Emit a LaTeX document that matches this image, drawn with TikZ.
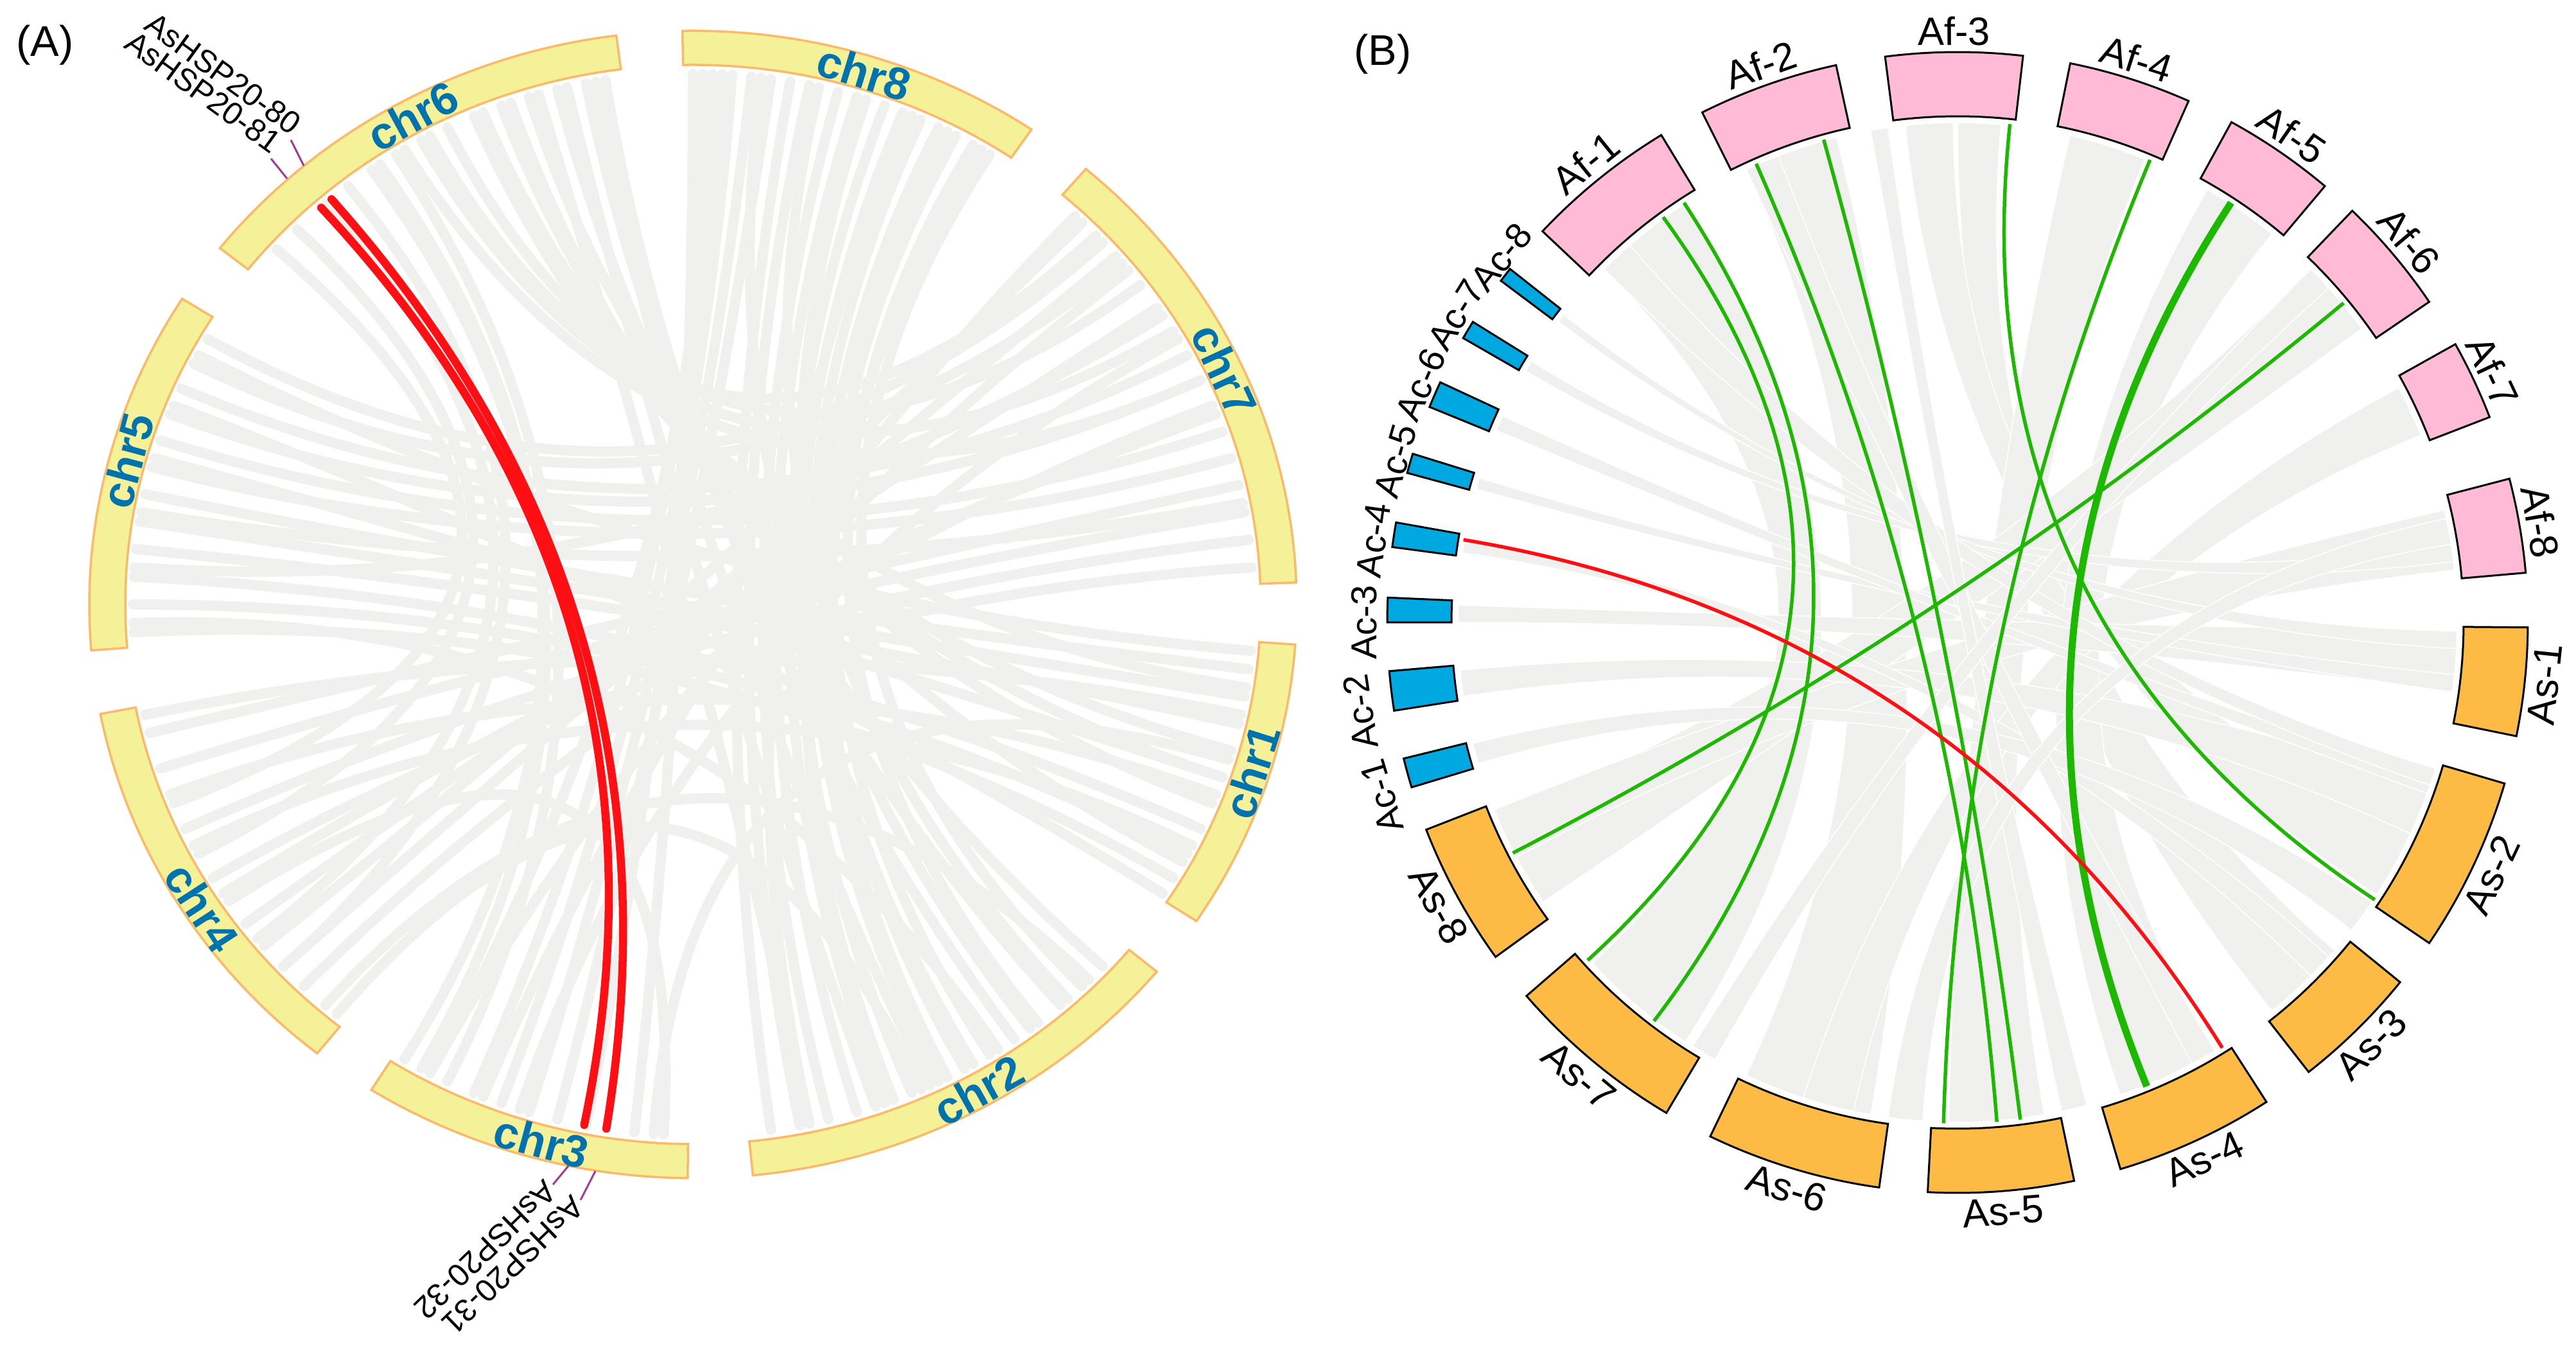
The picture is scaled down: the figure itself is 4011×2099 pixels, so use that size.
\documentclass[tikz,border=0pt]{standalone}
\usepackage{fontspec}
\setmainfont{Liberation Sans}

\definecolor{bandfill}{RGB}{245,241,152}
\definecolor{banddraw}{RGB}{253,185,106}
\definecolor{chrblue}{RGB}{0,115,175}
\definecolor{linkgray}{RGB}{240,240,238}
\definecolor{linkred}{RGB}{255,15,20}
\definecolor{linkgreen}{RGB}{28,185,0}
\definecolor{tickpurple}{RGB}{160,60,160}
\definecolor{affill}{RGB}{255,187,214}
\definecolor{asfill}{RGB}{253,187,69}
\definecolor{acfill}{RGB}{0,168,225}

\begin{document}
\begin{tikzpicture}[x=0.1mm, y=0.1mm,
    band/.style={fill=bandfill, draw=banddraw, line width=0.35mm},
    chrlabel/.style={text=chrblue, font=\fontsize{20}{20}\selectfont\bfseries, inner sep=0pt},
    genelabel/.style={font=\fontsize{14}{14}\selectfont, inner sep=1pt},
    genetick/.style={draw=tickpurple, line width=0.3mm},
    graylink/.style={draw=linkgray, line width=1.6mm, line cap=round},
    redlink/.style={draw=linkred, line width=1.25mm, line cap=round},
    ribbon/.style={fill=linkgray, draw=white, line width=0.15mm},
    greenlink/.style={draw=linkgreen, line width=0.55mm},
    redthin/.style={draw=linkred, line width=0.55mm},
    afbox/.style={fill=affill, draw=black, line width=0.3mm},
    asbox/.style={fill=asfill, draw=black, line width=0.3mm},
    acbox/.style={fill=acfill, draw=black, line width=0.3mm},
    boxlabel/.style={font=\fontsize{17.5}{17.5}\selectfont, inner sep=1pt},
    aclabel/.style={font=\fontsize{16}{16}\selectfont, inner sep=1pt},
    panel/.style={font=\fontsize{19}{19}\selectfont, inner sep=0pt}]

  \useasboundingbox (0,0) rectangle (4011,2099);

  \node[panel, anchor=north west] (panelA) at (25,2061) {(A)};
  \node[panel, anchor=north west] (panelB) at (2108,2047) {(B)};

  % (A) chromosomes
  \begin{scope}[shift={(1079,1158)}]
    \foreach \a/\b in {58/-46, 60/-52, 62/-58, 64/-61, 66/-64, 68/-67, 70/-70, 73/-73,
        75/-76, 78/-79, 80/-82, 82/-104, 84/-107, 86/-110, 88/-113, 90/-96,
        59/-63, 63/-69, 67/-78, 72/-60, 77/-48, 83/-53, 89/-101, 87/-118,
        99/-55, 101/-49, 104/-43, 107/-22, 110/-19, 113/-16, 116/37, 119/31,
        100/-65, 103/-71, 106/-78, 109/-29, 112/-9, 118/44, 121/25, 124/-121, 131/-141,
        122/-116, 125/-119, 128/-137, 135/-152, 138/-158,
        150/43, 153/40, 156/28, 159/25, 162/19, 165/16, 168/-7, 171/-10,
        174/-13, 177/-25, 180/-28, 183/-31, 152/-5, 158/-33, 164/-19, 170/11, 176/33, 182/-57,
        -166/13, -162/10, -155/7, -149/4, -146/-93, -143/34, -140/46, -134/22, -131/-45,
        -168/-12, -159/-21, -153/-27, -147/21, -137/41, -129.5/-66,
        -118/39, -112/47, -108/30, -94/-17}
      \draw[graylink] (\a:872 and 826) .. controls (\a:291 and 275) and (\b:291 and 275) .. (\b:872 and 826);

    \coordinate (r80) at (130.2:872 and 826);
    \coordinate (r81) at (131.6:872 and 826);
    \coordinate (r31) at (-98.9:872 and 826);
    \coordinate (r32) at (-101.2:872 and 826);
    \draw[redlink] (r80) .. controls (130.2:291 and 275) and (-98.9:291 and 275) .. (r31);
    \draw[redlink] (r81) .. controls (131.6:291 and 275) and (-101.2:291 and 275) .. (r32);

    \foreach \nm/\a/\b/\l/\r in {chr1/-33.5/-4/-17.5/72.5, chr2/-84.3/-39.8/-60.8/29.2,
        chr3/-122.2/-90.5/-105/-15, chr4/-169/-128.5/-147/-57,
        chr5/147.8/184.6/165/75, chr6/97.3/141.6/118.6/28.6,
        chr7/2.2/49.4/24.9/-65.1, chr8/55.9/91/73/-17}
    {
      \draw[band] (\a:940 and 893) arc[start angle=\a, end angle=\b, x radius=940, y radius=893]
        -- (\b:884 and 840) arc[start angle=\b, end angle=\a, x radius=884, y radius=840] -- cycle;
      \node[chrlabel, rotate=\r] (\nm) at (\l:912 and 866) {\nm};
    }

    \coordinate (t80) at (-626,723);
    \coordinate (t81) at (-657,694);
    \coordinate (t31) at (-175,-927);
    \coordinate (t32) at (-218,-903);
    \draw[genetick] (-606,683) -- (t80);
    \draw[genetick] (-632,663) -- (t81);
    \draw[genetick] (-152,-882) -- (t31);
    \draw[genetick] (-194,-874) -- (t32);
    \node[genelabel, rotate=-36, anchor=south east] (g80) at (t80) {AsHSP20-80};
    \node[genelabel, rotate=-36, anchor=south east] (g81) at (t81) {AsHSP20-81};
    \node[genelabel, rotate=224, anchor=west] (g31) at (t31) {AsHSP20-31};
    \node[genelabel, rotate=224, anchor=west] (g32) at (t32) {AsHSP20-32};
  \end{scope}

  % (B) synteny
  \begin{scope}[shift={(3048,1130)}]
    \foreach \a/\b/\c/\d in {123/135/223/237, 104/115/245/260, 85/90/309/319, 90.5/96/327/335,
        68/77/269/280, 51/60/289/301, 36/45/203/214, 22/28/252/258,
        6/13/202/208, 178/180/352/359, 185.5/188.5/335/341, 170.5/172/315/318,
        163.2/164.5/352/354, 155.6/157.4/340/342, 148.5/149.8/7/9, 142/143/357/359, 194/196.4/322/326,
        131/135/341/343, 111/115/298/301, 98/100/282/285, 42/45/238/241, 9/12/262/266}
      \fill[ribbon] (\a:778) arc[start angle=\a, end angle=\b, radius=778]
        .. controls (\b:259) and (\c:259) .. (\c:778) arc[start angle=\c, end angle=\d, radius=778]
        .. controls (\d:259) and (\a:259) .. (\a:778) -- cycle;

    \foreach \nm/\a/\b in {Af-1/121.3/136.7, Af-2/102.3/116.6, Af-3/83.4/97.3, Af-4/66.1/78.6,
        Af-5/49.9/61.3, Af-6/34.2/46.2, Af-7/21.1/29.2, Af-8/5/14.6}
    {
      \pgfmathsetmacro{\m}{(\a+\b)/2}
      \draw[afbox] (\a:888) arc[start angle=\a, end angle=\b, radius=888]
        -- (\b:788) arc[start angle=\b, end angle=\a, radius=788] -- cycle;
      \node[boxlabel, rotate=\m-90, anchor=south] (\nm) at (\m:894) {\nm};
    }
    \foreach \nm/\a/\b in {As-1/-11.5/-0.5, As-2/-34.2/-16.4, As-3/-52/-39.1, As-4/-73.4/-57.2,
        As-5/-93/-78.2, As-6/-115.7/-97.9, As-7/-139.1/-120.7, As-8/-158.7/-144.1}
    {
      \pgfmathsetmacro{\m}{(\a+\b)/2}
      \draw[asbox] (\a:888) arc[start angle=\a, end angle=\b, radius=888]
        -- (\b:788) arc[start angle=\b, end angle=\a, radius=788] -- cycle;
      \node[boxlabel, rotate=\m+90, anchor=north] (\nm) at (\m:894) {\nm};
    }
    \foreach \nm/\a/\b/\l/\r in {Ac-1/193.8/196.8/196.8/936, Ac-2/184.9/188.9/188.5/940,
        Ac-3/177.5/180/180/924, Ac-4/169.9/172.4/172/918, Ac-5/162.8/164.8/164/910,
        Ac-6/155.1/157.8/156.1/914, Ac-7/148.2/150.1/148.5/916, Ac-8/141.7/143.2/141.3/910}
    {
      \draw[acbox] (\a:888) arc[start angle=\a, end angle=\b, radius=888]
        -- (\b:788) arc[start angle=\b, end angle=\a, radius=788] -- cycle;
      \node[aclabel, rotate=\l-90] (\nm) at (\l:\r) {\nm};
    }

    \coordinate (f1a) at (126:780);   \coordinate (s7a) at (-137.6:780);
    \coordinate (f1b) at (123.1:780); \coordinate (s7b) at (-127.3:780);
    \coordinate (f2a) at (113.7:780); \coordinate (s5a) at (-85.5:780);
    \coordinate (f2b) at (105.5:780); \coordinate (s5b) at (-82.8:780);
    \coordinate (f3) at (84:780);     \coordinate (s2) at (-33.6:780);
    \coordinate (f4) at (67.4:780);   \coordinate (s5c) at (-91.6:780);
    \coordinate (f5) at (56.9:780);   \coordinate (s4a) at (-67.8:780);
    \coordinate (f6) at (39.6:780);   \coordinate (s8) at (-152.6:780);
    \coordinate (c4) at (170.5:780);  \coordinate (s4b) at (-58.1:780);

    \draw[greenlink] (f1a) .. controls (126:260) and (-137.6:260) .. (s7a);
    \draw[greenlink] (f1b) .. controls (123.1:260) and (-127.3:260) .. (s7b);
    \draw[greenlink] (f2a) .. controls (113.7:260) and (-85.5:260) .. (s5a);
    \draw[greenlink] (f2b) .. controls (105.5:260) and (-82.8:260) .. (s5b);
    \draw[greenlink] (f3) .. controls (84:260) and (-33.6:260) .. (s2);
    \draw[greenlink] (f4) .. controls (67.4:260) and (-91.6:260) .. (s5c);
    \draw[greenlink, line width=1.1mm] (f5) .. controls (56.9:260) and (-67.8:260) .. (s4a);
    \draw[greenlink] (f6) .. controls (39.6:260) and (-152.6:260) .. (s8);
    \draw[redthin] (c4) .. controls (170.5:260) and (-58.1:260) .. (s4b);
  \end{scope}
\end{tikzpicture}
\end{document}
